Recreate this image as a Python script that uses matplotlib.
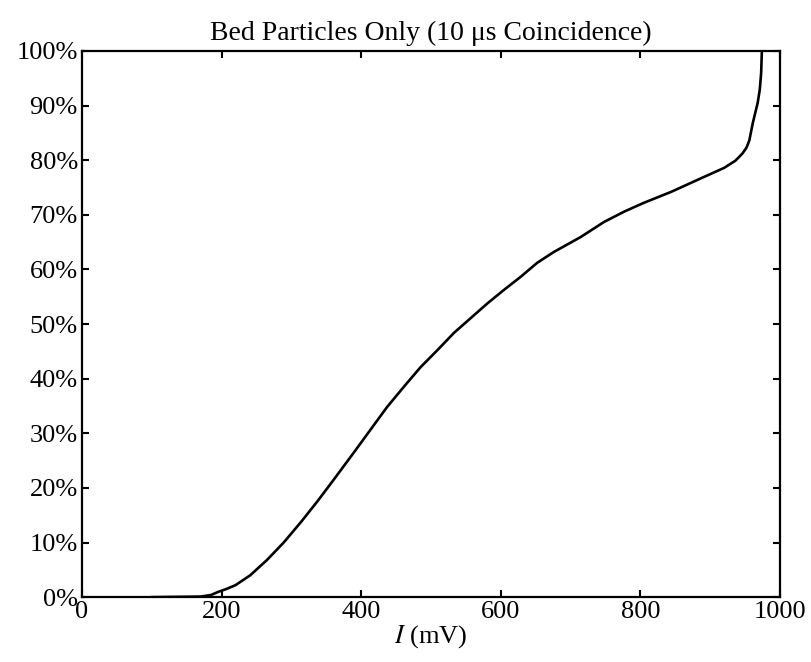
import matplotlib
matplotlib.use("Agg")
import matplotlib.pyplot as plt

# Values
current_mv = [100, 170, 185, 194, 207, 220, 241, 265, 289, 314, 337, 360, 389,
              413, 437, 461, 485, 509, 533, 557, 581, 604, 628, 652, 676, 714,
              748, 777, 805, 844, 887, 920, 936, 946, 952, 956, 961, 968, 971,
              973, 974]
percent = [0, 0.1, 0.4, 0.9, 1.5, 2.2, 4, 6.8, 10, 13.8, 17.5, 21.4, 26.4,
           30.6, 34.8, 38.5, 42.1, 45.2, 48.4, 51.1, 53.8, 56.2, 58.6, 61.2,
           63.2, 65.9, 68.7, 70.6, 72.2, 74.2, 76.7, 78.6, 79.9, 81.2, 82.3,
           83.6, 86.8, 90.5, 92.9, 96, 100]

x_ticks = [0, 200, 400, 600, 800, 1000]
y_ticks = list(range(0, 101, 10))

plt.rcParams['font.family'] = ['Liberation Serif', 'DejaVu Serif']
plt.rcParams['mathtext.fontset'] = 'stix'

fig = plt.figure(figsize=(8.12, 6.62), dpi=100)
ax = fig.add_axes([0.101, 0.098, 0.8596, 0.825])

ax.plot(current_mv, percent, color='black', linewidth=1.9)

ax.set_xlim(0, 1000)
ax.set_ylim(0, 100)
ax.set_xticks(x_ticks)
ax.set_yticks(y_ticks)
ax.set_yticklabels([f"{v}%" for v in y_ticks])
ax.tick_params(direction='in', length=5, width=1.5, top=True, right=True,
               labelsize=19, pad=3)
for s in ax.spines.values():
    s.set_linewidth(1.6)

ax.set_title("Bed Particles Only (10 \u03bcs Coincidence)", fontsize=20, pad=8)
ax.set_xlabel(r"$I$ (mV)", fontsize=19, labelpad=0)

fig.savefig("out.png", dpi=100)
